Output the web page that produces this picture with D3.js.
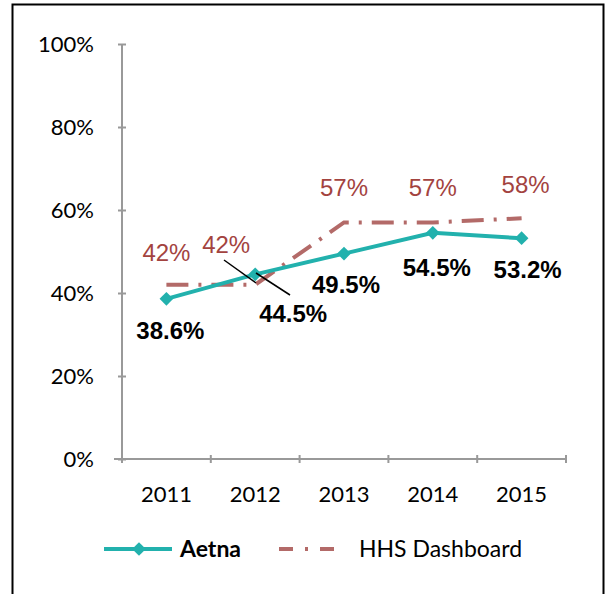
<!DOCTYPE html>
<html>
<head>
<meta charset="utf-8">
<script src="https://cdn.jsdelivr.net/npm/d3@7"></script>
<style>
  body { margin: 0; background: #fff; }
</style>
</head>
<body>
<div id="chart"></div>
<script>
// data
var years = ["2011", "2012", "2013", "2014", "2015"];
var aetna = [38.6, 44.5, 49.5, 54.5, 53.2];
var hhs = [42, 42, 57, 57, 58];
var yTicks = [0, 20, 40, 60, 80, 100];

var aetnaColor = "#22b1ad";
var hhsColor = "#b36a68";
var hhsLabelColor = "#a3433f";
var axisFont = "Lato, 'Liberation Sans', sans-serif";
var labelFont = "'Liberation Sans', Arial, sans-serif";

var W = 610, H = 594;

var svg = d3.select("#chart").append("svg").attr("width", W).attr("height", H);

// outer frame
svg.append("rect")
  .attr("x", 12.5).attr("y", 4.5)
  .attr("width", 591).attr("height", 600)
  .attr("fill", "none").attr("stroke", "#000").attr("stroke-width", 2);

var xScale = d3.scaleBand().domain(years).range([122, 566]);
var yScale = d3.scaleLinear().domain([0, 100]).range([459, 44]);

var g = svg.append("g");

// y axis
var yAxis = g.append("g")
  .attr("transform", "translate(122,0)")
  .call(d3.axisLeft(yScale).tickValues(yTicks).tickSize(8).tickPadding(20)
    .tickFormat(function (d) { return d + "%"; }));
yAxis.selectAll("line").attr("transform", "translate(4,0)");
yAxis.select(".domain").attr("d", "M0,44V459");
yAxis.selectAll("line, path").attr("stroke", "#999").attr("stroke-width", 2);
yAxis.selectAll("text").style("font-family", axisFont).style("font-size", "22px").attr("fill", "#000");

// x axis
var xAxis = g.append("g")
  .attr("transform", "translate(0,459)");
xAxis.append("line").attr("x1", 114).attr("x2", 566).attr("y1", 0).attr("y2", 0);
var xEdges = years.map(function (d) { return xScale(d); }).concat([xScale.range()[1]]);
xAxis.selectAll(".xt").data(xEdges).enter().append("line")
  .attr("class", "xt")
  .attr("x1", function (d) { return d; }).attr("x2", function (d) { return d; })
  .attr("y1", -4).attr("y2", 4);
xAxis.selectAll("line").attr("stroke", "#999").attr("stroke-width", 2);
xAxis.selectAll(".xl").data(years).enter().append("text")
  .attr("class", "xl")
  .attr("x", function (d) { return xScale(d) + xScale.bandwidth() / 2; })
  .attr("y", 43)
  .attr("text-anchor", "middle")
  .style("font-family", axisFont)
  .style("font-size", "22px")
  .attr("fill", "#000")
  .text(function (d) { return d; });

var cx = function (i) { return xScale(years[i]) + xScale.bandwidth() / 2; };

// HHS line
var hhsLine = d3.line()
  .x(function (d, i) { return cx(i); })
  .y(function (d) { return yScale(d); });
g.append("path")
  .datum(hhs)
  .attr("d", hhsLine)
  .attr("fill", "none")
  .attr("stroke", hhsColor)
  .attr("stroke-width", 4)
  .attr("stroke-dasharray", "22,10,3,10");

// Aetna line
var aetnaLine = d3.line()
  .x(function (d, i) { return cx(i); })
  .y(function (d) { return yScale(d); });
g.append("path")
  .datum(aetna)
  .attr("d", aetnaLine)
  .attr("fill", "none")
  .attr("stroke", aetnaColor)
  .attr("stroke-width", 4);

var diamond = d3.symbol().type(d3.symbolDiamond2).size(120);
g.selectAll(".pt").data(aetna).enter().append("path")
  .attr("class", "pt")
  .attr("d", diamond)
  .attr("transform", function (d, i) { return "translate(" + cx(i) + "," + yScale(d) + ")"; })
  .attr("fill", aetnaColor);

// leader lines
g.append("line").attr("x1", 224).attr("y1", 260).attr("x2", 256).attr("y2", 283)
  .attr("stroke", "#000").attr("stroke-width", 1.5);
g.append("line").attr("x1", 256).attr("y1", 273).attr("x2", 290).attr("y2", 295)
  .attr("stroke", "#000").attr("stroke-width", 1.5);

// HHS labels
var hhsOffsets = [[0, -24], [-29, -32], [0, -26], [0, -26], [4, -25]];
g.selectAll(".hl").data(hhs).enter().append("text")
  .attr("class", "hl")
  .attr("x", function (d, i) { return cx(i) + hhsOffsets[i][0]; })
  .attr("y", function (d, i) { return yScale(d) + hhsOffsets[i][1]; })
  .attr("text-anchor", "middle")
  .style("font-family", labelFont)
  .style("font-size", "24px")
  .attr("fill", hhsLabelColor)
  .text(function (d) { return d + "%"; });

// Aetna labels
var aetnaOffsets = [[4, 40], [38, 48], [2, 39], [4, 43], [6, 40]];
g.selectAll(".al").data(aetna).enter().append("text")
  .attr("class", "al")
  .attr("x", function (d, i) { return cx(i) + aetnaOffsets[i][0]; })
  .attr("y", function (d, i) { return yScale(d) + aetnaOffsets[i][1]; })
  .attr("text-anchor", "middle")
  .style("font-family", labelFont)
  .style("font-weight", "bold")
  .style("font-size", "24px")
  .attr("fill", "#000")
  .text(function (d) { return d.toFixed(1) + "%"; });

// legend
var leg = svg.append("g").attr("transform", "translate(0,549)");
leg.append("line").attr("x1", 104).attr("x2", 172).attr("y1", 0).attr("y2", 0)
  .attr("stroke", aetnaColor).attr("stroke-width", 4);
leg.append("path").attr("d", diamond).attr("transform", "translate(139,0)").attr("fill", aetnaColor);
leg.append("text").attr("x", 180).attr("y", 8)
  .style("font-family", axisFont).style("font-size", "23px").style("font-weight", "bold")
  .attr("fill", "#000").text("Aetna");
leg.append("line").attr("x1", 279).attr("x2", 338).attr("y1", 0).attr("y2", 0)
  .attr("stroke", hhsColor).attr("stroke-width", 4).attr("stroke-dasharray", "14,12,3,12");
leg.append("text").attr("x", 359).attr("y", 8)
  .style("font-family", axisFont).style("font-size", "23px")
  .attr("fill", "#000").text("HHS Dashboard");
</script>
</body>
</html>
